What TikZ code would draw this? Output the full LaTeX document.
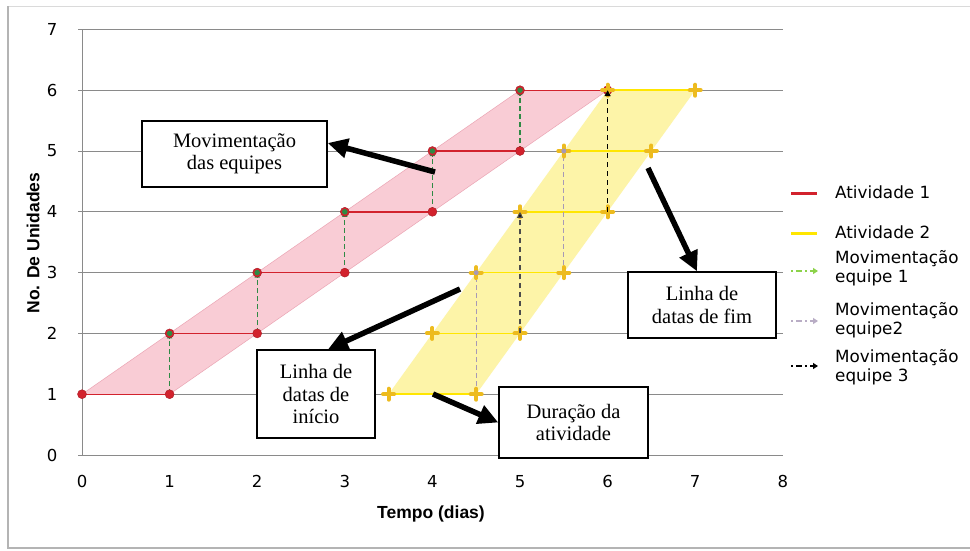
\documentclass[tikz,border=0pt]{standalone}
\usepackage{fontspec}
\setmainfont{Liberation Serif}
\newfontfamily\legfont{DejaVu Sans}
\newfontfamily\axfont{Liberation Sans}
\usetikzlibrary{arrows.meta}
\definecolor{gridgray}{HTML}{8A8A8A}
\definecolor{framegray}{HTML}{B4B4B4}
\definecolor{actred}{HTML}{D2222D}
\definecolor{pinkband}{HTML}{F9CCD5}
\definecolor{pinkedge}{HTML}{EBA5B4}
\definecolor{actyellow}{HTML}{FFE600}
\definecolor{yellowband}{HTML}{FDF4A8}
\definecolor{goldmk}{HTML}{EDBB1E}
\definecolor{teamgreen}{HTML}{2F8A45}
\definecolor{teampurple}{HTML}{A799B7}
\definecolor{leggreen}{HTML}{8CD24A}
\tikzset{
  grid line/.style={gridgray, line width=1pt},
  ticklbl/.style={font=\legfont\fontsize{16.5}{18}\selectfont, inner sep=0pt},
  axtitle/.style={font=\axfont\bfseries\fontsize{17.5}{20}\selectfont, inner sep=0pt},
  leglbl/.style={font=\legfont\fontsize{16.8}{19.5}\selectfont, align=left, anchor=west, inner sep=0pt},
  actone/.style={actred, line width=1.4pt},
  acttwo/.style={actyellow, line width=1.6pt},
  movone/.style={teamgreen, line width=1.3pt, dash pattern=on 5pt off 3pt, -{Triangle[length=5pt,width=5pt]}},
  movtwo/.style={teampurple, line width=1.1pt, dash pattern=on 5pt off 3pt},
  movthreethin/.style={black!70, line width=1.1pt, dash pattern=on 5pt off 4pt, -{Triangle[length=6pt,width=6pt,fill=black]}},
  movthree/.style={black, line width=1.6pt, dash pattern=on 5pt off 4pt, -{Triangle[length=6pt,width=6pt]}},
  redmk/.style={circle, fill=actred, draw=actred!80!black, line width=0.4pt, minimum size=9pt, inner sep=0pt},
  greenmk/.style={circle, fill=teamgreen, minimum size=5.5pt, inner sep=0pt},
  purplemk/.style={circle, fill=teampurple, minimum size=5pt, inner sep=0pt},
  plusmk/.pic={\draw[goldmk, line width=4pt, line cap=round] (-5.5pt,0pt) -- (5.5pt,0pt) (0pt,-5.5pt) -- (0pt,5.5pt);},
  callbox/.style={draw=black, line width=1.4pt, fill=white, align=center, inner sep=0pt,
    font=\fontsize{20.5}{22.5}\selectfont},
  callout/.style={black, line width=5.5pt, -{Triangle[length=20pt,width=19pt]}},
}
\begin{document}
\begin{tikzpicture}[x=1pt,y=-1pt]
\useasboundingbox (0,0) rectangle (970,550);
\fill[white] (0,0) rectangle (970,550);
% outer frame
\coordinate (fTL) at (8,6);
\coordinate (fTR) at (970,6);
\coordinate (fBL) at (8,548);
\coordinate (fBR) at (970,548);
\draw[framegray!50, line width=0.8pt] (fTL) -- (fTR);
\draw[framegray, line width=1.2pt] (fTL) -- (fBL) -- (fBR);

\begin{scope}[shift={(82,455)}, x=87.6pt, y=60.8pt]
  % grid and axis
  \foreach \i in {0,...,7} {
    \coordinate (gl\i) at (0,\i);
    \coordinate (gr\i) at (8,\i);
    \draw[grid line] (gl\i) -- (gr\i);
    \draw[grid line] (gl\i) -- ++(-4pt,0pt);
    \node[ticklbl] (yl\i) at (-0.34,\i) {\i};
  }
  \draw[grid line] (gl0) -- (gl7);
  \foreach \i in {0,...,8} {
    \node[ticklbl] (xl\i) at (\i,-0.44) {\i};
  }
  % data points
  \foreach \k in {1,...,6} {
    \coordinate (p\k) at ({\k-1},\k);
    \coordinate (q\k) at (\k,\k);
    \coordinate (u\k) at ({3+0.5*\k},\k);
    \coordinate (v\k) at ({4+0.5*\k},\k);
  }
  % bands
  \fill[pinkband] (p1) -- (p6) -- (q6) -- (q1) -- cycle;
  \draw[pinkedge, line width=0.5pt] (p1) -- (p6) (q1) -- (q6);
  \fill[yellowband] (u1) -- (u6) -- (v6) -- (v1) -- cycle;
  % activity lines
  \foreach \k in {1,...,6} {
    \draw[actone] (p\k) -- (q\k);
    \draw[acttwo] (u\k) -- (v\k);
  }
  % team movements
  \foreach \k in {1,...,5} {
    \pgfmathtruncatemacro{\n}{\k+1}
    \draw[movone] (q\k) -- (p\n);
  }
  \draw[movtwo] (v1) -- (u3);
  \draw[movtwo] (v3) -- (u5);
  % markers
  \foreach \k in {1,...,6} {
    \node[redmk] (rp\k) at (p\k) {};
    \node[redmk] (rq\k) at (q\k) {};
  }
  \foreach \k in {2,...,6} {
    \node[greenmk] (gm\k) at (p\k) {};
  }
  \foreach \k in {1,...,6} {
    \pic at (u\k) {plusmk};
    \pic at (v\k) {plusmk};
  }
  \node[purplemk] (pm3) at (u3) {};
  \node[purplemk] (pm5) at (u5) {};
  \draw[movthreethin] (v2) -- (u4);
  \draw[movthree] (v4) -- (u6);
\end{scope}

% axis titles
\node[axtitle] (xtitle) at (431,514) {Tempo (dias)};
\node[axtitle, rotate=90] (ytitle) at (33,243) {No. De Unidades};

% legend
\coordinate (lr1) at (791,193); \coordinate (lr2) at (817,193);
\draw[actred, line width=3pt] (lr1) -- (lr2);
\node[leglbl] (lg1) at (835,192) {Atividade 1};
\coordinate (ly1) at (791,233); \coordinate (ly2) at (817,233);
\draw[actyellow, line width=3pt] (ly1) -- (ly2);
\node[leglbl] (lg2) at (835,232) {Atividade 2};
\coordinate (lm1a) at (791,271); \coordinate (lm1b) at (818,271);
\draw[leggreen, line width=1.5pt, dash pattern=on 2pt off 3pt on 6pt off 3pt, -{Triangle[length=5pt,width=6pt]}] (lm1a) -- (lm1b);
\node[leglbl] (lg3) at (835,268) {Movimentação\\equipe 1};
\coordinate (lm2a) at (791,321); \coordinate (lm2b) at (818,321);
\draw[teampurple!80, line width=1.5pt, dash pattern=on 2pt off 3pt on 6pt off 3pt, -{Triangle[length=5pt,width=6pt]}] (lm2a) -- (lm2b);
\node[leglbl] (lg4) at (835,320) {Movimentação\\equipe2};
\coordinate (lm3a) at (791,366); \coordinate (lm3b) at (818,366);
\draw[black, line width=1.5pt, dash pattern=on 2pt off 3pt on 6pt off 3pt, -{Triangle[length=5pt,width=6pt]}] (lm3a) -- (lm3b);
\node[leglbl] (lg5) at (835,367) {Movimentação\\equipe 3};

% callout boxes
\node[callbox, minimum width=185pt, minimum height=66pt] (box1) at (234.5,154) {Movimentação\\das equipes};
\node[callbox, minimum width=148pt, minimum height=66pt] (box2) at (702,305) {Linha de\\datas de fim};
\node[callbox, minimum width=118pt, minimum height=88pt] (box3) at (316,394) {Linha de\\datas de\\início};
\node[callbox, minimum width=149pt, minimum height=71pt] (box4) at (573.5,422.5) {Duração da\\atividade};

% callout arrows
\coordinate (t1) at (435,172);
\coordinate (t2) at (648,168);
\coordinate (t3) at (460,289);
\coordinate (t4) at (433,394);
\draw[callout] (t1) -- ([yshift=11pt]box1.east);
\draw[callout] (t2) -- ([xshift=-5pt]box2.north);
\draw[callout] (t3) -- ([xshift=12pt]box3.north);
\draw[callout] (t4) -- (box4.west);
\end{tikzpicture}
\end{document}
